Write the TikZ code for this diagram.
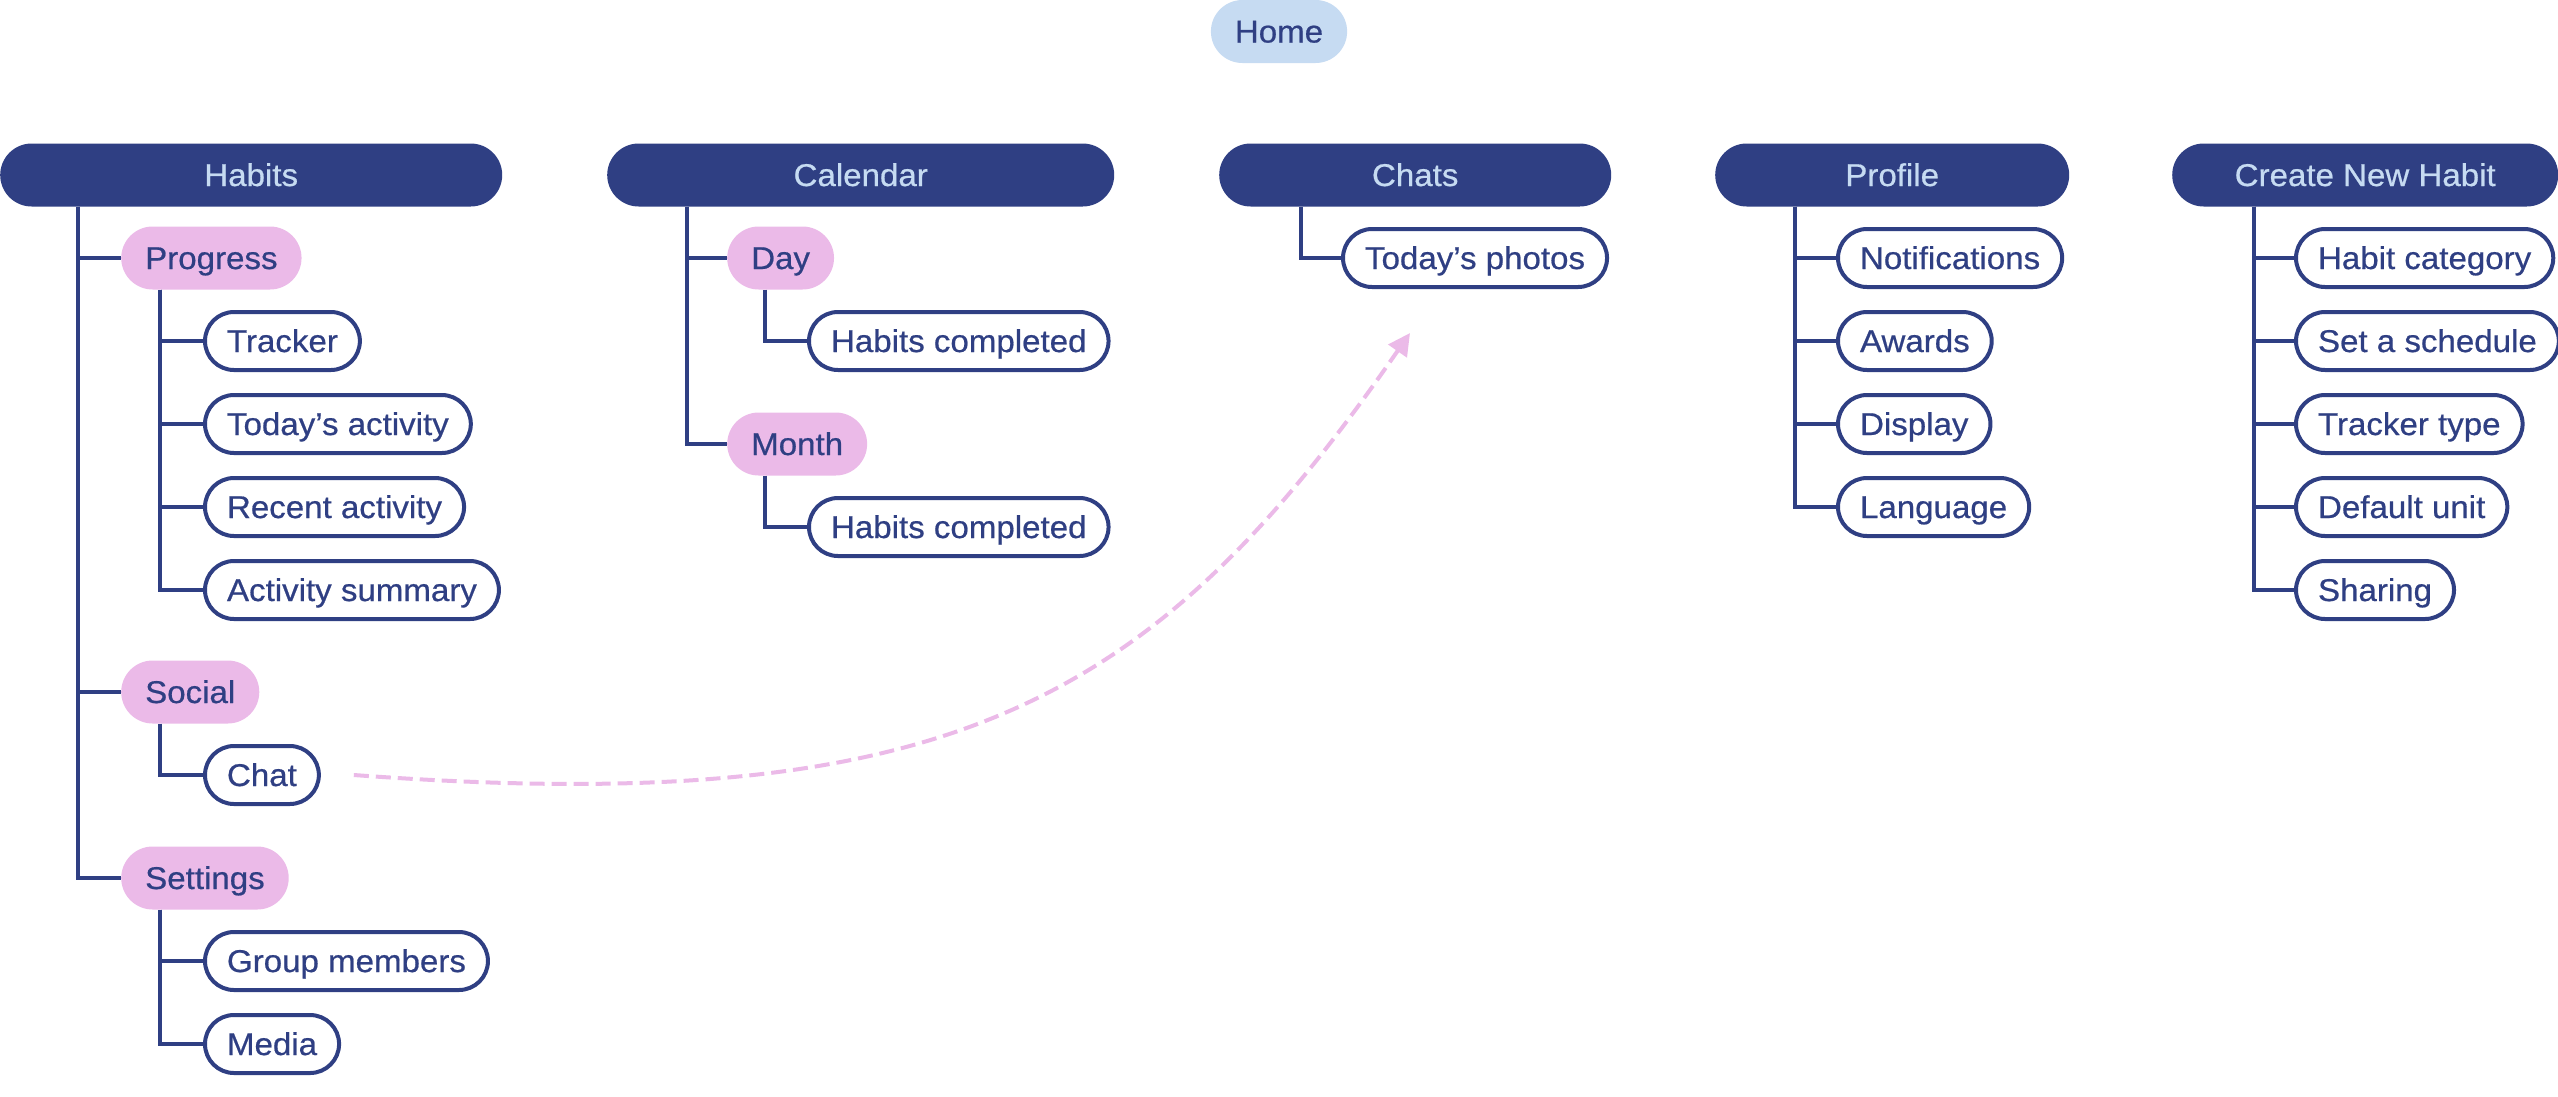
\documentclass[tikz,border=0pt]{standalone}
\usepackage{fontspec}
\setmainfont[FakeStretch=1.05,FakeBold=0.6]{Liberation Sans}
\usetikzlibrary{arrows.meta}
\definecolor{navy}{HTML}{2F3F83}
\definecolor{lightblue}{HTML}{C6DBF2}
\definecolor{pinkfill}{HTML}{EBBAE8}

\begin{document}
\begin{tikzpicture}[
		x=1pt, y=-1pt,
		every node/.style={font=\fontsize{31.5}{36}\selectfont, text height=22pt, text depth=0pt,
				inner ysep=0pt, inner xsep=24pt},
		home/.style={fill=lightblue, text=navy, minimum height=63pt, rounded corners=31.5pt},
		section/.style={fill=navy, text=lightblue, minimum height=63pt, minimum width=#1,
				rounded corners=31.5pt, anchor=west},
		group/.style={fill=pinkfill, text=navy, minimum height=63pt, rounded corners=31.5pt, anchor=west},
		item/.style={draw=navy, line width=4pt, fill=white, text=navy, minimum height=58pt,
				rounded corners=29pt, inner xsep=22pt, anchor=west},
		branch/.style={draw=navy, line width=4pt},
		link/.style={draw=pinkfill, line width=4pt, dash pattern=on 15pt off 7pt,
				-{Triangle[length=22pt,width=22pt]}}
	]
	\useasboundingbox (0,0) rectangle (2558,1096);

	\node[home] (home) at (1279,31.5) {Home};

	% top level
	\node[section=502pt] (habits) at (0,175) {Habits};
	\node[section=507pt] (calendar) at (607,175) {Calendar};
	\node[section=392pt] (chats) at (1219,175) {Chats};
	\node[section=354pt] (profile) at (1715,175) {Profile};
	\node[section=386pt] (create) at (2172,175) {Create New Habit};

	% Habits
	\node[group] (progress) at (121,258) {Progress};
	\node[group] (social) at (121,692) {Social};
	\node[group] (settings) at (121,878) {Settings};
	\foreach \n in {progress,social,settings}
	\draw[branch] ([xshift=78pt]habits.south west) |- (\n.west);

	\foreach \txt [count=\i] in {Tracker,Today’s activity,Recent activity,Activity summary} {
			\node[item] (progress-\i) at (203,{258+83*\i}) {\txt};
			\draw[branch] ([xshift=39pt]progress.south west) |- (progress-\i.west);
		}
	\node[item] (chat) at (203,775) {Chat};
	\draw[branch] ([xshift=39pt]social.south west) |- (chat.west);
	\node[item] (members) at (203,961) {Group members};
	\node[item] (media) at (203,1044) {Media};
	\foreach \n in {members,media}
	\draw[branch] ([xshift=39pt]settings.south west) |- (\n.west);

	% Calendar
	\node[group] (day) at (727,258) {Day};
	\node[group] (month) at (727,444) {Month};
	\node[item] (day-done) at (807,341) {Habits completed};
	\node[item] (month-done) at (807,527) {Habits completed};
	\foreach \n in {day,month} {
			\draw[branch] ([xshift=80pt]calendar.south west) |- (\n.west);
			\draw[branch] ([xshift=38pt]\n.south west) |- (\n-done.west);
		}

	% Chats
	\node[item] (photos) at (1341,258) {Today’s photos};
	\draw[branch] ([xshift=82pt]chats.south west) |- (photos.west);

	% Profile
	\foreach \txt [count=\i] in {Notifications,Awards,Display,Language} {
			\node[item] (profile-\i) at (1836,{175+83*\i}) {\txt};
			\draw[branch] ([xshift=80pt]profile.south west) |- (profile-\i.west);
		}

	% Create New Habit
	\foreach \txt [count=\i] in {Habit category,Set a schedule,Tracker type,Default unit,Sharing} {
			\node[item] (create-\i) at (2294,{175+83*\i}) {\txt};
			\draw[branch] ([xshift=82pt]create.south west) |- (create-\i.west);
		}

	\draw[link] ([xshift=33pt]chat.east) .. controls (950,819) and (1153,704)
	.. ([xshift=69pt,yshift=-44pt]photos.south west);
\end{tikzpicture}
\end{document}
